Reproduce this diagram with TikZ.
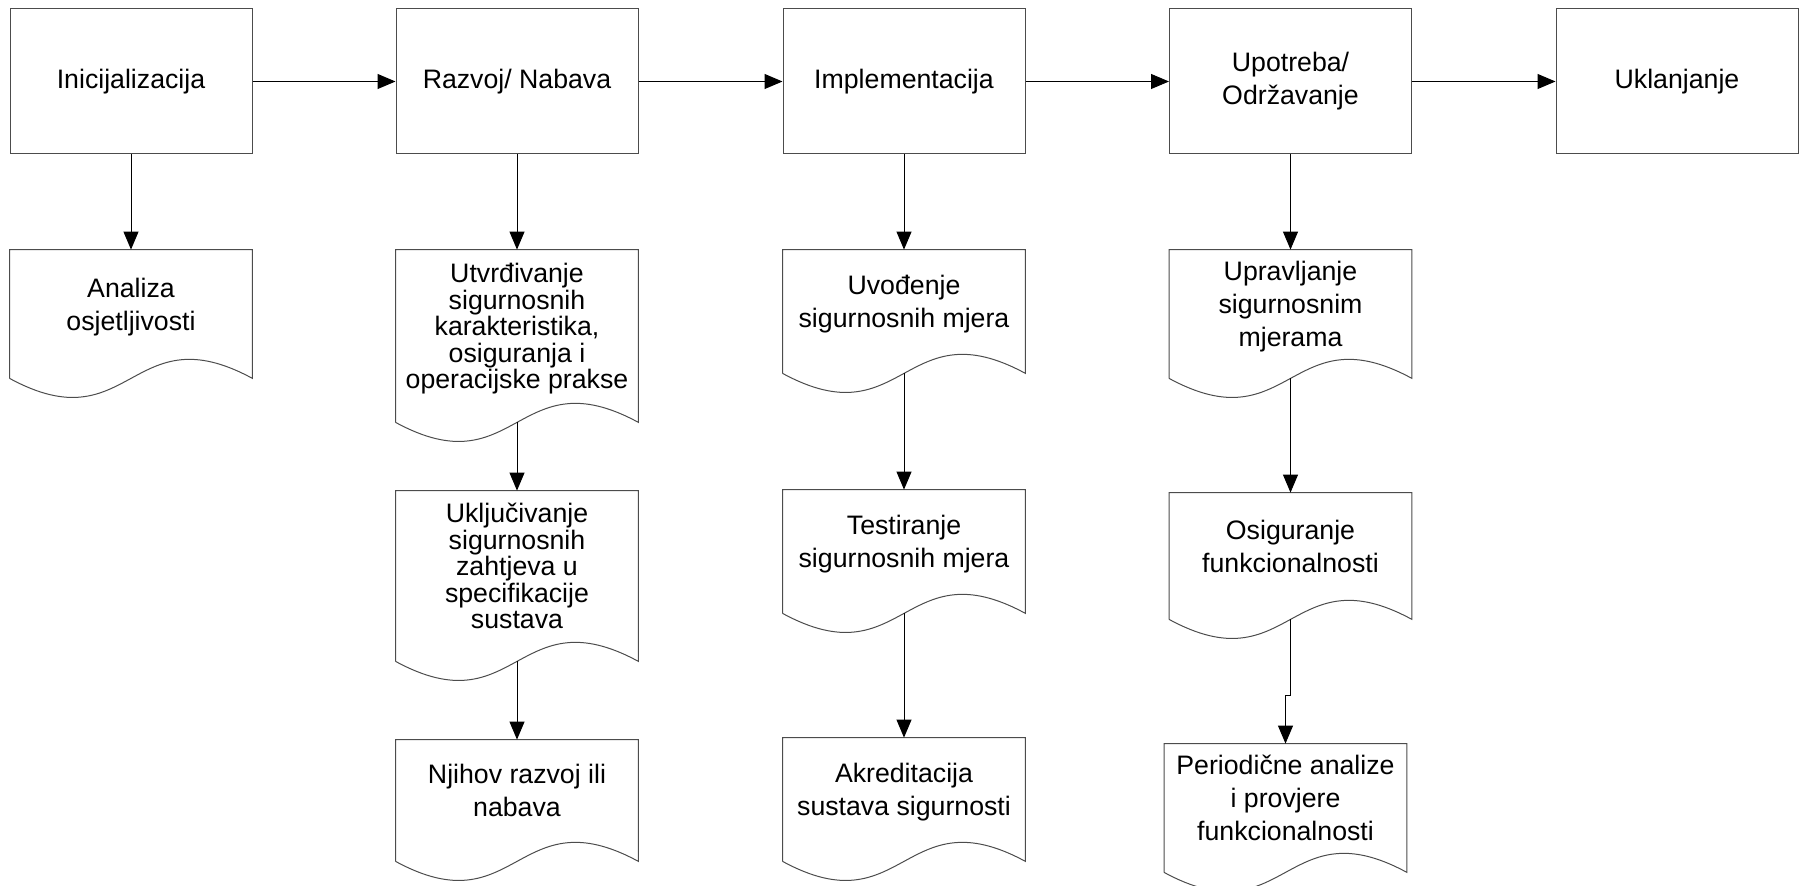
\documentclass[tikz,border=0pt]{standalone}
\usepackage{fontspec}
\setmainfont{Liberation Sans}
\usetikzlibrary{arrows.meta}

\begin{document}
\begin{tikzpicture}[x=0.5pt, y=-0.5pt,
	every node/.style={font=\fontsize{13.35pt}{16.5pt}\selectfont, align=center, inner sep=0pt},
	stage/.style={draw=black!70, line width=0.5pt, minimum width=121pt, minimum height=72.5pt},
	docshape/.style={minimum width=121pt, minimum height=#1,
		execute at end node={\rule[-10pt]{0pt}{0pt}},
		append after command={\pgfextra{\let\docnode=\tikzlastnode
			\draw[black!70, line width=0.5pt] (\docnode.south west) -- (\docnode.north west) -- (\docnode.north east) -- (\docnode.south east)
			.. controls ([yshift=33pt]\docnode.south) and ([yshift=-33pt]\docnode.south) .. (\docnode.south west);}}},
	tight/.style={font=\fontsize{13.35pt}{13.25pt}\selectfont},
	flow/.style={draw, line width=0.5pt, -{Triangle[length=9pt, width=7.5pt]}}]
	\useasboundingbox (0,0) rectangle (1804,886);

	\node[stage] (init) at (131,81.5) {Inicijalizacija};
	\node[stage] (razvoj) at (517,81.5) {Razvoj/ Nabava};
	\node[stage] (impl) at (904,81.5) {Implementacija};
	\node[stage] (upotreba) at (1290.5,81.5) {Upotreba/\\Održavanje};
	\node[stage] (uklanj) at (1677,81.5) {Uklanjanje};

	\node[docshape=64pt] (analiza) at (131,314) {Analiza\\osjetljivosti};
	\node[docshape=86pt, tight] (utvrd) at (517,336) {Utvrđivanje\\sigurnosnih\\karakteristika,\\osiguranja i\\operacijske prakse};
	\node[docshape=85pt, tight] (uklj) at (517,576) {Uključivanje\\sigurnosnih\\zahtjeva u\\specifikacije\\sustava};
	\node[docshape=60.5pt] (njihov) at (517,800.5) {Njihov razvoj ili\\nabava};
	\node[docshape=61.5pt] (uvod) at (904,311.5) {Uvođenje\\sigurnosnih mjera};
	\node[docshape=61.5pt] (testir) at (904,551.5) {Testiranje\\sigurnosnih mjera};
	\node[docshape=61.5pt] (akred) at (904,799.5) {Akreditacija\\sustava sigurnosti};
	\node[docshape=64pt] (upravlj) at (1290.5,314) {Upravljanje\\sigurnosnim\\mjerama};
	\node[docshape=63pt] (osig) at (1290.5,556) {Osiguranje\\funkcionalnosti};
	\node[docshape=64pt] (period) at (1285.5,808) {Periodične analize\\i provjere\\funkcionalnosti};

	\draw[flow] (init) -- (razvoj);
	\draw[flow] (razvoj) -- (impl);
	\draw[flow] (impl) -- (upotreba);
	\draw[flow] (upotreba) -- (uklanj);
	\draw[flow] (init) -- (analiza);
	\draw[flow] (razvoj) -- (utvrd);
	\draw[flow] (utvrd) -- (uklj);
	\draw[flow] (uklj) -- (njihov);
	\draw[flow] (impl) -- (uvod);
	\draw[flow] (uvod) -- (testir);
	\draw[flow] (testir) -- (akred);
	\draw[flow] (upotreba) -- (upravlj);
	\draw[flow] (upravlj) -- (osig);
	\draw[flow] (osig.south) -- ++(0,76) -| (period.north);
\end{tikzpicture}
\end{document}
